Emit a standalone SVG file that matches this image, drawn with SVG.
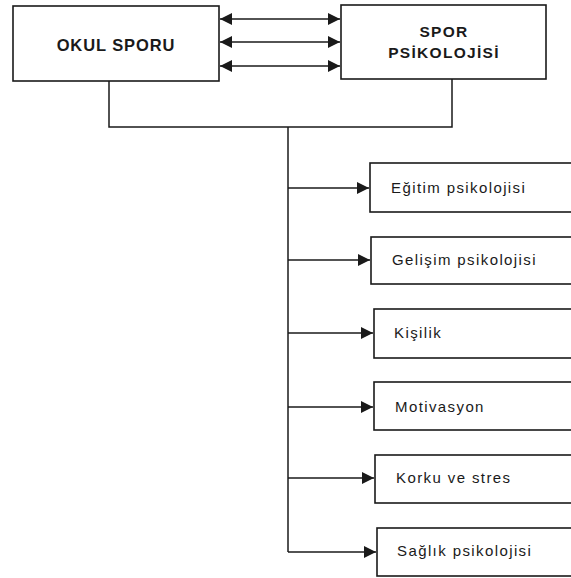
<svg xmlns="http://www.w3.org/2000/svg" width="571" height="578" viewBox="0 0 571 578">
<style>
.box{fill:#fff;stroke:#1a1a1a;stroke-width:1.6}
.ln{fill:none;stroke:#1a1a1a;stroke-width:1.5}
.hd{font-family:"Liberation Sans",Arial,sans-serif;font-weight:bold;fill:#1a1a1a}
.lb{font-family:"Liberation Sans",Arial,sans-serif;font-size:15px;letter-spacing:1.4px;fill:#1a1a1a}
</style>
<defs>
<marker id="ah" viewBox="0 0 10 10" refX="10" refY="5" markerWidth="15" markerHeight="12" markerUnits="userSpaceOnUse" orient="auto-start-reverse">
<path d="M0,0 L10,5 L0,10 Z" fill="#1a1a1a"/>
</marker>
</defs>
<rect width="571" height="578" fill="#fff"/>
<g id="connectors">
<line class="ln" x1="220" y1="19" x2="340" y2="19" marker-start="url(#ah)" marker-end="url(#ah)"/>
<line class="ln" x1="220" y1="42" x2="340" y2="42" marker-start="url(#ah)" marker-end="url(#ah)"/>
<line class="ln" x1="220" y1="66" x2="340" y2="66" marker-start="url(#ah)" marker-end="url(#ah)"/>
<path class="ln" d="M109,81 V127 H452 V79"/>
<path class="ln" d="M288,127 V552"/>
<line class="ln" x1="288" y1="188" x2="369" y2="188" marker-end="url(#ah)"/>
<line class="ln" x1="288" y1="260" x2="370" y2="260" marker-end="url(#ah)"/>
<line class="ln" x1="288" y1="333" x2="373" y2="333" marker-end="url(#ah)"/>
<line class="ln" x1="288" y1="407" x2="373" y2="407" marker-end="url(#ah)"/>
<line class="ln" x1="288" y1="478" x2="374" y2="478" marker-end="url(#ah)"/>
<line class="ln" x1="288" y1="552" x2="376" y2="552" marker-end="url(#ah)"/>
</g>
<g id="okul-sporu">
<rect class="box" x="13" y="6" width="206" height="75"/>
<text class="hd" x="116" y="51" font-size="16.5" letter-spacing="0.9" text-anchor="middle">OKUL SPORU</text>
</g>
<g id="spor-psikolojisi">
<rect class="box" x="341" y="5" width="205" height="74"/>
<text class="hd" x="444" y="37" font-size="15.5" letter-spacing="1.3" text-anchor="middle">SPOR</text>
<text class="hd" x="444" y="58" font-size="15.5" letter-spacing="1.3" text-anchor="middle">PSİKOLOJİSİ</text>
</g>
<g id="egitim">
<rect class="box" x="370" y="163" width="210" height="49"/>
<text class="lb" x="391" y="193">Eğitim psikolojisi</text>
</g>
<g id="gelisim">
<rect class="box" x="371" y="237" width="210" height="47"/>
<text class="lb" x="392" y="265">Gelişim psikolojisi</text>
</g>
<g id="kisilik">
<rect class="box" x="374" y="309" width="210" height="49"/>
<text class="lb" x="394" y="338">Kişilik</text>
</g>
<g id="motivasyon">
<rect class="box" x="374" y="382" width="210" height="48"/>
<text class="lb" x="395" y="412">Motivasyon</text>
</g>
<g id="korku">
<rect class="box" x="375" y="455" width="210" height="48"/>
<text class="lb" x="396" y="483">Korku ve stres</text>
</g>
<g id="saglik">
<rect class="box" x="377" y="528" width="210" height="48"/>
<text class="lb" x="397" y="556">Sağlık psikolojisi</text>
</g>
</svg>
